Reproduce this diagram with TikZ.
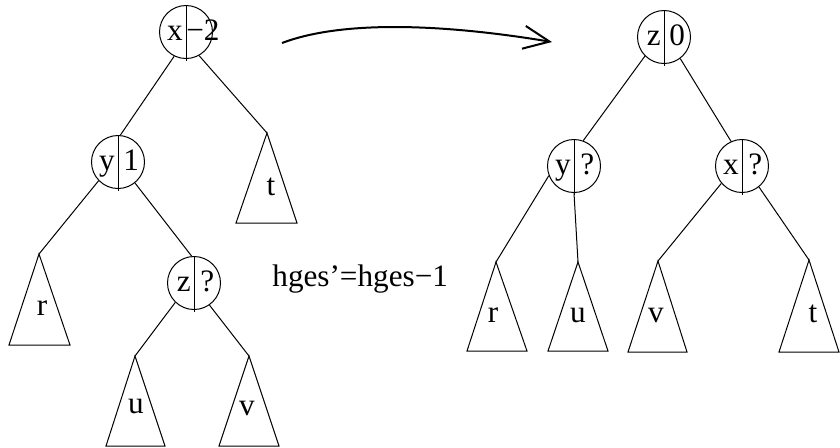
\documentclass[tikz,border=0pt]{standalone}
\usepackage{fontspec}
\setmainfont{Liberation Serif}
\usetikzlibrary{calc,arrows.meta}

\tikzset{
  bal/.style={circle, draw, minimum size=26.5pt, inner sep=0pt, line width=0.5pt},
  lab/.style={inner sep=0pt, font=\fontsize{15.6pt}{18pt}\selectfont},
  edge/.style={line width=0.5pt},
  subtree/.style={line width=0.5pt, line join=miter},
  rotarrow/.style={line width=1pt, -{Straight Barb[length=13pt,width=11.5pt,line width=1pt]}},
}

% draw a subtree triangle hanging from apex coordinate #1
\newcommand\hangtri[4]{% apex name, left-half width, right-half width, height
  \draw[subtree] (#1) -- ++(-#2,#4) -- ++(#2+#3,0) -- cycle;}

% balance node: circle with a vertical divider, key on the left, balance on the right
\newcommand\balnode[6]{% name, x, y, key, balance, balance x-offset
  \node[bal] (#1) at (#2,#3) {};
  \draw[edge] (#1.north) -- ($(#1.south)+(0,2)$);
  \node[lab, anchor=base east] (#1k) at ($(#1.center)+(-3,8)$) {#4};
  \node[lab, anchor=base west] (#1b) at ($(#1.center)+(#6,8)$) {#5};}

\begin{document}
\begin{tikzpicture}[x=0.5pt, y=-0.5pt]
\useasboundingbox (0,0) rectangle (840,447);

% ---- tree before the rotation ----
\balnode{X}{186}{32}{x}{−2}{0}
\balnode{Y}{118}{162}{y}{1}{5}
\balnode{Z}{194}{283}{z}{?}{6}

\coordinate (Lr) at (39,254);
\coordinate (Lt) at (267,133);
\coordinate (Lu) at (135,356);
\coordinate (Lv) at (249,356);
\hangtri{Lr}{30}{31}{91}
\hangtri{Lt}{31}{30}{90}
\hangtri{Lu}{29}{30}{90}
\hangtri{Lv}{30}{30}{90}
\node[lab, anchor=base] (lr) at ($(Lr)+(3,61)$) {r};
\node[lab, anchor=base] (lt) at ($(Lt)+(4,62)$) {t};
\node[lab, anchor=base] (lu) at ($(Lu)+(1,57)$) {u};
\node[lab, anchor=base] (lv) at ($(Lv)+(-2,59)$) {v};

\draw[edge] (X.244) -- (Y.85);
\draw[edge] (X.299) -- (Lt);
\draw[edge] (Y.224) -- (Lr);
\draw[edge] (Y.309) -- (Z.95);
\draw[edge] (Z.226) -- (Lu);
\draw[edge] (Z.305) -- (Lv);

% ---- height change ----
\node[lab, anchor=base west] (hges) at (272,286) {hges'=hges−1};

% ---- rotation arrow ----
\coordinate (arrS) at (282,43);
\coordinate (arrE) at (552,42);
\draw[rotarrow] (arrS) .. controls (345,19) and (450,25) .. (arrE);

% ---- tree after the rotation ----
\balnode{Z2}{664}{37}{z}{0}{5}
\balnode{Y2}{574}{166}{y}{?}{6}
\balnode{X2}{742}{166}{x}{?}{6}

\coordinate (Rr) at (496,262);
\coordinate (Ru) at (578,262);
\coordinate (Rv) at (658,261);
\coordinate (Rt) at (809,260);
\hangtri{Rr}{29}{31}{89}
\hangtri{Ru}{30}{30}{89}
\hangtri{Rv}{30}{29}{91}
\hangtri{Rt}{30}{30}{92}
\node[lab, anchor=base] (rr) at ($(Rr)+(-3,60)$) {r};
\node[lab, anchor=base] (ru) at ($(Ru)+(0,60)$) {u};
\node[lab, anchor=base] (rv) at ($(Rv)+(-2,61)$) {v};
\node[lab, anchor=base] (rt) at ($(Rt)+(4,62)$) {t};

\draw[edge] (Z2.225) -- (Y2.70);
\draw[edge] (Z2.307) -- (X2.114);
\draw[edge] (Y2.201) -- (Rr);
\draw[edge] (Y2.south) -- (Ru);
\draw[edge] (X2.220) -- (Rv);
\draw[edge] (X2.309) -- (Rt);
\end{tikzpicture}
\end{document}
